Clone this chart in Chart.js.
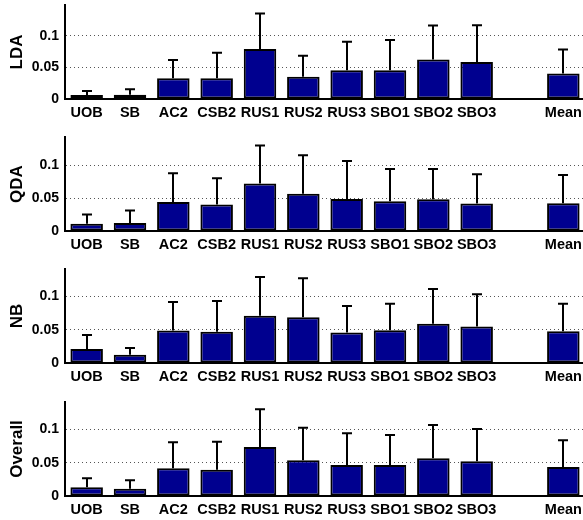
<!DOCTYPE html>
<html>
<head>
<meta charset="utf-8">
<script src="https://cdn.jsdelivr.net/npm/chart.js@4.4.1/dist/chart.umd.min.js"></script>
<style>
  html, body { margin: 0; padding: 0; background: #fff; width: 583px; height: 520px; overflow: hidden; }
  .wrap { position: absolute; left: 0; width: 590px; height: 130px; }
  canvas { display: block; }
</style>
</head>
<body>
<div class="wrap" style="top:0px"><canvas id="c0" width="590" height="130"></canvas></div>
<div class="wrap" style="top:132px"><canvas id="c1" width="590" height="130"></canvas></div>
<div class="wrap" style="top:264px"><canvas id="c2" width="590" height="130"></canvas></div>
<div class="wrap" style="top:397px"><canvas id="c3" width="590" height="130"></canvas></div>
<script>
// ---- data ----
const categories = ['UOB', 'SB', 'AC2', 'CSB2', 'RUS1', 'RUS2', 'RUS3', 'SBO1', 'SBO2', 'SBO3', '', 'Mean'];
const panelNames = ['LDA', 'QDA', 'NB', 'Overall'];
const yTicks = [0, 0.05, 0.1];
const yTickLabels = ['0', '0.05', '0.1'];
const yMax = [0.149, 0.1425, 0.141, 0.141];

const ldaValues     = [0.0063, 0.0068, 0.0327, 0.0327, 0.0791, 0.0353, 0.0454, 0.0454, 0.0628, 0.0585, 0.0006, 0.0406];
const ldaUpper      = [0.0127, 0.0153, 0.0617, 0.0733, 0.1356, 0.0685, 0.0907, 0.0934, 0.1166, 0.1170, null,   0.0786];
const qdaValues     = [0.0110, 0.0120, 0.0440, 0.0400, 0.0720, 0.0565, 0.0485, 0.0450, 0.0480, 0.0415, 0.0006, 0.0420];
const qdaUpper      = [0.0250, 0.0310, 0.0875, 0.0800, 0.1295, 0.1150, 0.1060, 0.0940, 0.0940, 0.0860, null,   0.0850];
const nbValues      = [0.0210, 0.0125, 0.0488, 0.0468, 0.0710, 0.0687, 0.0458, 0.0490, 0.0590, 0.0547, 0.0006, 0.0478];
const nbUpper       = [0.0420, 0.0224, 0.0915, 0.0930, 0.1290, 0.1270, 0.0856, 0.0890, 0.1110, 0.1030, null,   0.0890];
const overallValues = [0.0130, 0.0110, 0.0415, 0.0395, 0.0735, 0.0535, 0.0465, 0.0465, 0.0565, 0.0520, 0.0006, 0.0435];
const overallUpper  = [0.0265, 0.0235, 0.0805, 0.0815, 0.1300, 0.1025, 0.0940, 0.0915, 0.1065, 0.1005, null,   0.0835];

const panelValues = [ldaValues, qdaValues, nbValues, overallValues];
const panelUpper = [ldaUpper, qdaUpper, nbUpper, overallUpper];

const FONT = "'Liberation Sans', Arial, Helvetica, sans-serif";

const errorBarPlugin = {
  id: 'errorBars',
  afterDatasetsDraw(chart) {
    const upper = chart.options.plugins.errorBars.upper;
    const meta = chart.getDatasetMeta(0);
    const ys = chart.scales.y;
    const ctx = chart.ctx;
    ctx.save();
    ctx.strokeStyle = '#000';
    ctx.lineWidth = 2;
    meta.data.forEach((bar, i) => {
      const u = upper[i];
      if (u === null || u === undefined) return;
      const x = Math.round(bar.x);
      const yTop = ys.getPixelForValue(u);
      const yBar = bar.y;
      ctx.beginPath();
      ctx.moveTo(x, yBar);
      ctx.lineTo(x, yTop);
      ctx.moveTo(x - 5, yTop);
      ctx.lineTo(x + 5, yTop);
      ctx.stroke();
    });
    ctx.restore();
  }
};

panelNames.forEach((name, p) => {
  new Chart(document.getElementById('c' + p), {
    type: 'bar',
    data: {
      labels: categories,
      datasets: [{
        data: panelValues[p],
        backgroundColor: '#00008f',
        borderColor: '#000',
        borderWidth: 2,
        borderSkipped: false,
        barPercentage: 0.75,
        categoryPercentage: 1.0
      }]
    },
    options: {
      responsive: false,
      animation: false,
      devicePixelRatio: 1,
      layout: { padding: { top: 5, right: 5, left: 0, bottom: 0 } },
      plugins: {
        legend: { display: false },
        tooltip: { enabled: false },
        errorBars: { upper: panelUpper[p] }
      },
      scales: {
        x: {
          type: 'category',
          offset: true,
          grid: { display: false, drawTicks: false },
          border: { display: true, color: '#000', width: 2 },
          ticks: {
            color: '#000',
            padding: 5,
            autoSkip: false,
            maxRotation: 0,
            font: { family: FONT, size: 14.5, weight: 'bold' }
          },
          afterFit(scale) { scale.height = 31; scale.paddingLeft = 0; scale.paddingRight = 0; }
        },
        y: {
          min: 0,
          max: yMax[p],
          afterBuildTicks(scale) { scale.ticks = yTicks.map(v => ({ value: v })); },
          grid: {
            display: true,
            drawTicks: false,
            color: '#555',
            lineWidth: 1
          },
          border: { display: true, color: '#000', width: 2, dash: [1, 3] },
          ticks: {
            color: '#000',
            padding: 6,
            font: { family: FONT, size: 14, weight: 'bold' },
            callback(value, index) { return yTickLabels[index]; }
          },
          title: {
            display: true,
            text: name,
            color: '#000',
            font: { family: FONT, size: 17, weight: 'bold' },
            padding: { top: 7, bottom: 0 }
          },
          afterFit(scale) { scale.width = 65; scale.paddingTop = 0; scale.paddingBottom = 0; }
        }
      }
    },
    plugins: [errorBarPlugin]
  });
});
</script>
</body>
</html>
